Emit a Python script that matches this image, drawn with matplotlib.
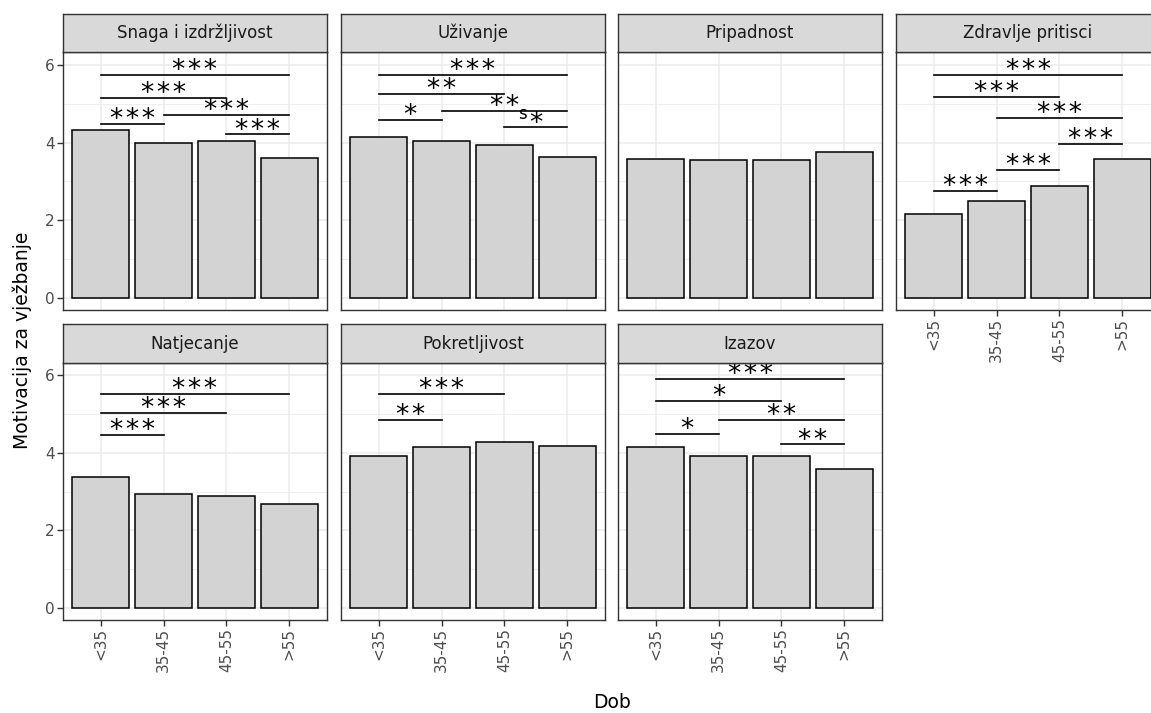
import numpy as np
import matplotlib
matplotlib.use('Agg')
import matplotlib.pyplot as plt
from matplotlib.textpath import TextPath
from matplotlib.font_manager import FontProperties

groups = ['<35', '35-45', '45-55', '>55']
panel_names = ['Snaga i izdržljivost', 'Uživanje', 'Pripadnost', 'Zdravlje pritisci',
               'Natjecanje', 'Pokretljivost', 'Izazov']

snaga = [4.33, 3.98, 4.03, 3.60]
uzivanje = [4.15, 4.03, 3.94, 3.64]
pripadnost = [3.59, 3.55, 3.55, 3.76]
zdravlje = [2.16, 2.51, 2.89, 3.59]
natjecanje = [3.37, 2.93, 2.90, 2.68]
pokretljivost = [3.92, 4.14, 4.27, 4.18]
izazov = [4.14, 3.92, 3.92, 3.58]

# significance brackets: (from group, to group, height, label)
snaga_sig = [(1, 4, 5.74, '***'), (1, 3, 5.16, '***'), (2, 4, 4.70, '***'),
             (1, 2, 4.48, '***'), (3, 4, 4.21, '***')]
uzivanje_sig = [(1, 4, 5.74, '***'), (1, 3, 5.25, '**'), (2, 4, 4.82, '**'),
                (1, 2, 4.58, '*'), (3, 4, 4.39, '*')]
pripadnost_sig = []
zdravlje_sig = [(1, 4, 5.73, '***'), (1, 3, 5.18, '***'), (2, 4, 4.64, '***'),
                (3, 4, 3.96, '***'), (2, 3, 3.30, '***'), (1, 2, 2.76, '***')]
natjecanje_sig = [(1, 4, 5.53, '***'), (1, 3, 5.03, '***'), (1, 2, 4.46, '***')]
pokretljivost_sig = [(1, 3, 5.53, '***'), (1, 2, 4.85, '**')]
izazov_sig = [(1, 4, 5.90, '***'), (1, 3, 5.34, '*'), (2, 4, 4.85, '**'),
              (1, 2, 4.48, '*'), (3, 4, 4.22, '**')]

values = [snaga, uzivanje, pripadnost, zdravlje, natjecanje, pokretljivost, izazov]
sigs = [snaga_sig, uzivanje_sig, pripadnost_sig, zdravlje_sig,
        natjecanje_sig, pokretljivost_sig, izazov_sig]

W, H = 1151, 713
fig = plt.figure(figsize=(W / 100, H / 100), dpi=100)
fig.patch.set_facecolor('white')

lefts = [63, 341, 618, 896]
pw = 264
rows = [(52.4, 309.8, 14.0), (363.0, 619.6, 324.4)]  # plot top, plot bottom, strip top

border = '#333333'
tick_col = '#4D4D4D'

# put the bottom of the star glyphs ~3pt above the bracket line
star_size = 19
star_ext = TextPath((0, 0), '*', size=star_size,
                    prop=FontProperties(family='DejaVu Sans')).get_extents()
star_off = 3.2 - star_ext.y0

for i, name in enumerate(panel_names):
    r, c = divmod(i, 4)
    top, bot, stop = rows[r]
    left = lefts[c]
    ax = fig.add_axes([left / W, 1 - bot / H, pw / W, (bot - top) / H])
    sax = fig.add_axes([left / W, 1 - top / H, pw / W, (top - stop) / H])

    x = np.arange(1, len(groups) + 1)
    ax.bar(x, values[i], width=0.9, color='#D3D3D3', edgecolor='black', linewidth=1.1, zorder=3)
    for x1, x2, y, lab in sigs[i]:
        ax.plot([x1, x2], [y, y], color='black', lw=1.2, zorder=4, clip_on=False)
        # hair spaces keep the stars apart like in the original
        ax.annotate('\u200a'.join(lab), xy=((x1 + x2) / 2, y), xytext=(0, star_off),
                    textcoords='offset points', ha='center', va='baseline',
                    fontsize=star_size, family='DejaVu Sans', zorder=5)
    if name == 'Uživanje':
        ax.text(3.28, 4.74, 's', ha='center', va='center', fontsize=12, zorder=5)

    ax.set_xlim(0.4, 4.6)
    ax.set_ylim(-0.3, 6.32)
    ax.set_xticks(x)
    ax.set_yticks([0, 2, 4, 6])
    ax.set_yticks([1, 3, 5], minor=True)
    ax.grid(which='major', color='#EBEBEB', lw=1.1, zorder=0)
    ax.grid(which='minor', axis='y', color='#EBEBEB', lw=0.55, zorder=0)
    ax.set_axisbelow(True)
    for s in ax.spines.values():
        s.set_color(border)
        s.set_linewidth(1.0)
    ax.tick_params(which='minor', length=0)
    ax.tick_params(which='major', length=4, width=1.0, color=border,
                   labelcolor=tick_col, labelsize=11, pad=2)

    show_x = (r == 1) or (c == 3)
    if show_x:
        ax.set_xticklabels(groups, rotation=90, va='top', ha='center')
    else:
        ax.tick_params(axis='x', length=0, labelbottom=False)
    if c == 0:
        ax.set_yticklabels(['0', '2', '4', '6'])
    else:
        ax.tick_params(axis='y', length=0, labelleft=False)

    sax.set_facecolor('#D9D9D9')
    sax.set_xticks([])
    sax.set_yticks([])
    for s in sax.spines.values():
        s.set_color(border)
        s.set_linewidth(1.0)
    sax.text(0.5, 0.5, name, ha='center', va='center', fontsize=12,
             color='#1A1A1A', transform=sax.transAxes)

fig.text(22 / W, 1 - 340 / H, 'Motivacija za vježbanje', rotation=90,
         ha='center', va='center', fontsize=13.5)
fig.text(612 / W, 1 - 702 / H, 'Dob', ha='center', va='center', fontsize=13.5)

plt.savefig('out.png', dpi=100)
